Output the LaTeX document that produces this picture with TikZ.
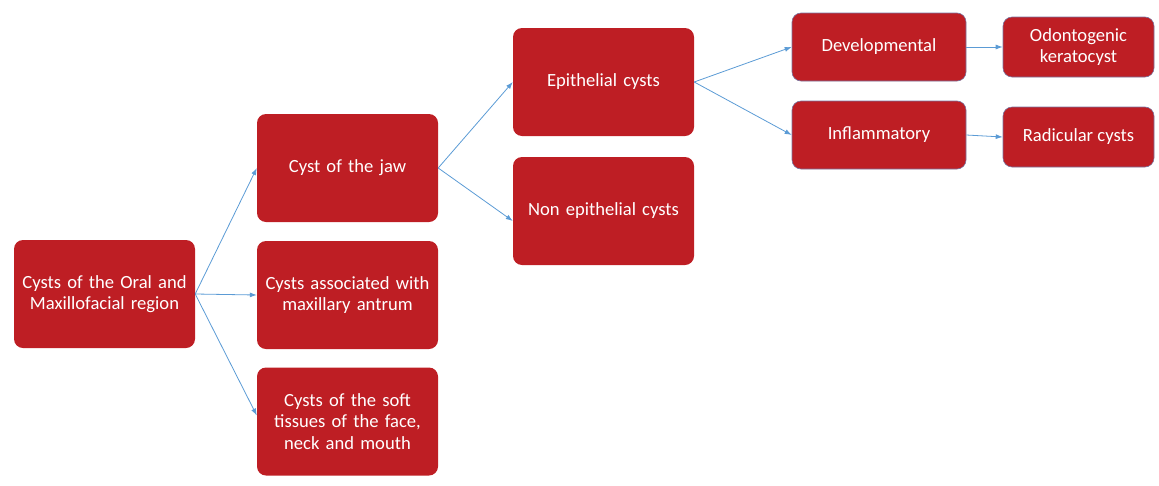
\documentclass[tikz,border=0pt]{standalone}
\usepackage{fontspec}
\setmainfont{Carlito}
\usetikzlibrary{arrows.meta}
\definecolor{cystred}{HTML}{BE1E24}
\definecolor{linkblue}{HTML}{5B9BD5}

\begin{document}
\begin{tikzpicture}[x=1pt, y=-1pt,
		box/.style={fill=cystred, rounded corners=9pt, text=white, align=center, font=\fontsize{18.6}{21.5}\selectfont, inner sep=2pt},
		bigbox/.style={box, minimum width=181pt, minimum height=108pt, text width=175pt},
		smallbox/.style={box, draw=linkblue!70!cystred, line width=0.6pt},
		link/.style={draw=linkblue, line width=0.8pt, -{Latex[length=7pt,width=5pt]}}]
		\useasboundingbox (0,0) rectangle (1159,485);
		\node[bigbox] (root) at (104.5,294) {Cysts of the Oral and\\Maxillofacial region};
		\node[bigbox] (jaw) at (347.5,168) {Cyst of the jaw};
		\node[bigbox] (antrum) at (347.5,295) {Cysts associated with\\maxillary antrum};
		\node[bigbox] (soft) at (347.5,421.5) {Cysts of the soft\\tissues of the face,\\neck and mouth};
		\node[bigbox] (epi) at (603.5,82) {Epithelial cysts};
		\node[bigbox] (nonepi) at (603.5,211) {Non epithelial cysts};
		\node[smallbox, minimum width=174pt, minimum height=68pt] (devel) at (879,47) {Developmental};
		\node[smallbox, minimum width=174pt, minimum height=68pt] (inflam) at (879,135) {Inflammatory};
		\node[smallbox, minimum width=151pt, minimum height=60pt] (okc) at (1078.5,47) {Odontogenic\\keratocyst};
		\node[smallbox, minimum width=151pt, minimum height=60pt] (radic) at (1078.5,137) {Radicular cysts};
		% links
		\draw[link] (root.east) -- (jaw.west);
		\draw[link] (root.east) -- (antrum.west);
		\draw[link] (root.east) -- ([yshift=6pt]soft.west);
		\draw[link] (jaw.east) -- (epi.west);
		\draw[link] (jaw.east) -- ([yshift=-10pt]nonepi.west);
		\draw[link] (epi.east) -- (devel.west);
		\draw[link] (epi.east) -- (inflam.west);
		\draw[link] (devel.east) -- (okc.west);
		\draw[link] (inflam.east) -- (radic.west);
	\end{tikzpicture}
\end{document}
